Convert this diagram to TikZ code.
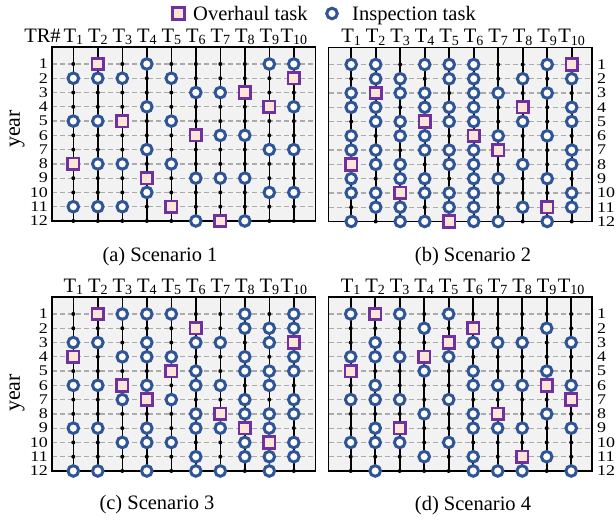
\documentclass[tikz,border=0pt]{standalone}
\usepackage{fontspec}
\setmainfont{Liberation Serif}

\definecolor{mkblue}{HTML}{2F5597}
\definecolor{mkpurple}{HTML}{7030A0}
\definecolor{mkfill}{HTML}{FBE5D6}
\definecolor{panelbg}{HTML}{F2F2F2}
\definecolor{gridgray}{HTML}{ABABAB}

% task label T with a small lowered index
\newcommand\Tsub[1]{T\raisebox{-2.5pt}{\fontsize{14}{14}\selectfont #1}}
% year numbers are set slightly squat
\newcommand\ynum[1]{\scalebox{1}[0.82]{#1}}

\tikzset{
  mk-o/.style={circle, draw=mkblue, fill=white, line width=3pt, minimum size=10.6pt, inner sep=0pt},
  mk-s/.style={rectangle, draw=mkpurple, fill=mkfill, line width=2.7pt, minimum size=11.6pt, inner sep=0pt},
  mk-d/.style={circle, fill=black, minimum size=4pt, inner sep=0pt},
  txt/.style={font=\fontsize{20.5pt}{22pt}\selectfont, inner sep=0pt},
  numtxt/.style={font=\fontsize{18pt}{18pt}\selectfont, inner sep=0pt},
  axtxt/.style={font=\fontsize{22pt}{24pt}\selectfont, inner sep=0pt, rotate=90},
  gridline/.style={draw=gridgray, line width=1.3pt, dash pattern=on 5pt off 3pt},
  colline/.style={draw=black, line width=1.6pt},
  boxline/.style={draw=black, line width=1.6pt},
}

% #1 name prefix, #2 box left, #3 first column x, #4 first row y, #5 column specs
% spec letters: o = inspection, s = overhaul, d = no task
\newcommand\taskpanel[5]{%
  \pgfmathsetmacro\ptop{#4-17}%
  \pgfmathsetmacro\pbot{#4+11*14.27}%
  \pgfmathsetmacro\pright{#2+263.5}%
  \fill[panelbg] (#2,\ptop) rectangle (\pright,\pbot);
  \foreach \ri in {1,...,11}
    \draw[gridline] (#2,{#4+(\ri-1)*14.27}) -- (\pright,{#4+(\ri-1)*14.27});
  \draw[boxline] (#2,\ptop) rectangle (\pright,\pbot);
  \foreach \spec [count=\ci] in {#5} {
    \coordinate (#1-top\ci) at ({#3+(\ci-1)*24.5},\ptop);
    \coordinate (#1-bot\ci) at ({#3+(\ci-1)*24.5},\pbot);
    \draw[colline] (#1-top\ci) -- (#1-bot\ci);
    \foreach \m [count=\ri] in \spec
      \node[mk-\m] (#1-\ci-\ri) at ({#3+(\ci-1)*24.5},{#4+(\ri-1)*14.27}) {};
    \node[txt, anchor=base] (#1-t\ci) at ({#3+(\ci-1)*24.5},{#4-21.7}) {\Tsub{\ci}};
  }
}

\begin{document}
\begin{tikzpicture}[x=1pt, y=-1pt]
  \useasboundingbox (0,0) rectangle (616,521);

  % legend
  \node[mk-s] (leg-s) at (178.5,13.5) {};
  \node[txt, anchor=base west] (leg-st) at (193,21) {Overhaul task};
  \node[mk-o] (leg-o) at (332,13.5) {};
  \node[txt, anchor=base west] (leg-ot) at (352,21) {Inspection task};

  % (a) Scenario 1
  \taskpanel{a}{52}{73.3}{64}{
    {d,o,d,d,o,d,d,s,d,d,o,d},
    {s,o,d,d,o,d,d,o,d,d,o,d},
    {d,o,d,d,s,d,d,o,d,d,o,d},
    {o,d,d,o,d,d,o,d,s,o,d,d},
    {d,o,d,d,o,d,d,o,d,d,s,d},
    {d,d,o,d,d,s,d,d,o,d,d,o},
    {d,d,o,d,d,o,d,d,o,d,d,s},
    {d,d,s,d,d,o,d,d,o,d,d,o},
    {o,d,d,s,d,d,o,d,d,o,d,d},
    {o,s,d,o,d,d,o,d,d,o,d,d}}

  % (b) Scenario 2
  \taskpanel{b}{328.5}{351.2}{64.5}{
    {o,d,o,o,d,o,o,s,o,o,d,o},
    {o,o,s,o,o,d,o,o,d,o,o,d},
    {d,o,o,d,o,o,d,o,o,s,o,o},
    {o,d,o,o,s,o,o,d,o,o,d,o},
    {o,o,d,o,o,d,o,o,d,o,o,s},
    {o,o,o,o,o,s,o,o,o,o,o,o},
    {d,d,o,d,d,o,s,d,o,d,d,o},
    {d,o,d,s,o,d,d,o,d,d,o,d},
    {o,d,o,d,d,o,d,d,o,d,s,o},
    {s,o,d,o,o,d,o,o,d,o,o,d}}

  % (c) Scenario 3
  \taskpanel{c}{52}{73.3}{314}{
    {d,d,o,s,d,o,d,d,o,d,d,o},
    {s,d,o,d,d,o,d,d,o,d,d,o},
    {o,d,d,o,d,s,o,d,d,o,d,d},
    {o,d,o,o,d,o,s,d,o,o,d,o},
    {o,d,d,o,s,d,o,d,d,o,d,d},
    {d,s,o,d,o,o,d,o,o,d,o,o},
    {d,d,o,d,d,o,d,s,o,d,d,o},
    {o,o,d,o,o,d,o,o,s,o,o,d},
    {d,o,o,d,o,o,d,o,o,s,o,o},
    {o,o,s,o,o,d,o,o,d,o,o,d}}

  % (d) Scenario 4
  \taskpanel{d}{328.5}{350.7}{314}{
    {o,d,d,o,s,d,o,d,d,o,d,d},
    {s,d,o,o,d,o,o,d,o,o,d,o},
    {o,d,d,o,d,d,o,d,s,o,d,d},
    {d,o,d,s,o,d,d,o,d,d,o,d},
    {o,d,s,o,d,d,o,d,d,o,d,d},
    {d,s,o,d,o,o,d,o,o,d,o,o},
    {d,d,o,d,d,o,d,s,o,d,d,o},
    {d,d,o,d,d,o,d,d,o,d,s,o},
    {d,o,d,d,o,s,d,o,d,d,o,d},
    {d,d,o,d,d,o,s,d,o,d,d,o}}

  % year numbers
  \foreach \ri in {1,...,12} {
    \node[numtxt, anchor=east] (ya\ri) at (48,{64+(\ri-1)*14.27}) {\ynum{\ri}};
    \node[numtxt, anchor=west] (yb\ri) at (597,{64.5+(\ri-1)*14.27}) {\ynum{\ri}};
    \node[numtxt, anchor=east] (yc\ri) at (48,{314+(\ri-1)*14.27}) {\ynum{\ri}};
    \node[numtxt, anchor=west] (yd\ri) at (597,{314+(\ri-1)*14.27}) {\ynum{\ri}};
  }
  \node[txt, anchor=base] (tr) at (42.5,42.3) {TR\#};
  \node[axtxt] (yeara) at (17,129) {year};
  \node[axtxt] (yearc) at (17,393) {year};

  % captions
  \node[txt, anchor=base] (capa) at (160,262) {(a) Scenario 1};
  \node[txt, anchor=base] (capb) at (473,262) {(b) Scenario 2};
  \node[txt, anchor=base] (capc) at (157,509) {(c) Scenario 3};
  \node[txt, anchor=base] (capd) at (473,510) {(d) Scenario 4};
\end{tikzpicture}
\end{document}
